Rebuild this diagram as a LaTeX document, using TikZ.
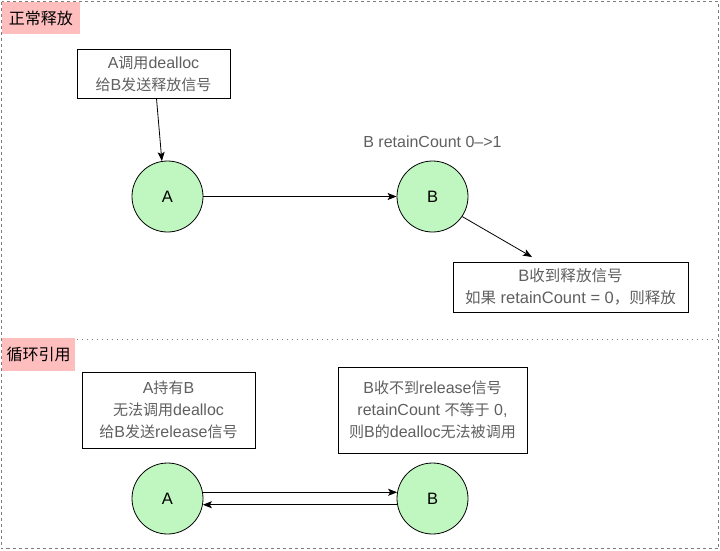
\documentclass[tikz,border=0pt]{standalone}
\usepackage{fontspec}
\setmainfont{Liberation Sans}
\newfontfamily\cjk[Scale=0.94]{Noto Sans CJK SC}
\newfontfamily\cjklbl{Noto Sans CJK SC}
\usetikzlibrary{arrows.meta}
\definecolor{txtgray}{RGB}{95,95,95}
\definecolor{cfill}{RGB}{192,246,192}
\definecolor{pinkbg}{RGB}{255,190,190}
\definecolor{framegray}{RGB}{125,125,125}
\begin{document}
\begin{tikzpicture}[x=1pt,y=-1pt,
  every node/.style={font=\fontsize{16}{22}\selectfont},
  circ/.style={circle, draw=black, line width=0.8pt, fill=cfill, minimum size=71pt, inner sep=0pt, font=\fontsize{16.5}{22}\selectfont},
  textbox/.style={draw=black, line width=1pt, text=txtgray, align=center, inner sep=0pt},
  tag/.style={fill=pinkbg, inner sep=0pt, text=black, font=\fontsize{16}{22}\selectfont\cjklbl},
  arr/.style={line width=0.8pt, -{Stealth[length=9pt,width=7pt,inset=2pt]}},
  frame/.style={draw=framegray, line width=1pt, dash pattern=on 3pt off 3pt},
]
\useasboundingbox (0,0) rectangle (720,550);
\draw[frame] (1.5,1.5) rectangle (718.5,548.5);
\draw[framegray, line width=1pt, dash pattern=on 1pt off 4pt] (1.5,339) -- (718.5,339);

% section labels
\node[tag, minimum width=78pt, minimum height=32pt] (t1) at (41,18) {正常释放};
\node[tag, minimum width=73pt, minimum height=33pt] (t2) at (38.5,354.5) {循环引用};

% normal release
\node[textbox, minimum width=153pt, minimum height=49pt] (m1) at (153.5,73.5)
  {A{\cjk 调用}dealloc\\{\cjk 给}B{\cjk 发送释放信号}};
\node[circ] (A1) at (167.5,196.5) {A};
\node[circ] (B1) at (432.5,196.5) {B};
\node[text=txtgray, inner sep=0pt] (lbl) at (432.5,142) {B retainCount 0-->1};
\node[textbox, minimum width=235pt, minimum height=50pt, font=\fontsize{16.5}{22}\selectfont] (m2) at (570.5,287)
  {B{\cjk 收到释放信号}\\{\cjk 如果} retainCount = 0{\cjk ，则释放}};
\coordinate (e2) at (532,257);

\draw[arr] ([xshift=3pt]m1.south) -- (A1.99);
\draw[arr] (A1) -- (B1);
\draw[arr] (B1.-34) -- (e2);

% cycle
\node[textbox, minimum width=173pt, minimum height=76pt] (m3) at (168.5,410)
  {A{\cjk 持有}B\\{\cjk 无法调用}dealloc\\{\cjk 给}B{\cjk 发送}release{\cjk 信号}};
\node[textbox, minimum width=189pt, minimum height=86pt] (m4) at (432.5,410)
  {B{\cjk 收不到}release{\cjk 信号}\\retainCount {\cjk 不等于} 0,\\{\cjk 则}B{\cjk 的}dealloc{\cjk 无法被调用}};
\node[circ] (A2) at (167.5,498.5) {A};
\node[circ] (B2) at (432.5,498.5) {B};
\draw[arr] (A2.10) -- (B2.170);
\draw[arr] (B2.190) -- (A2.-10);
\end{tikzpicture}
\end{document}
